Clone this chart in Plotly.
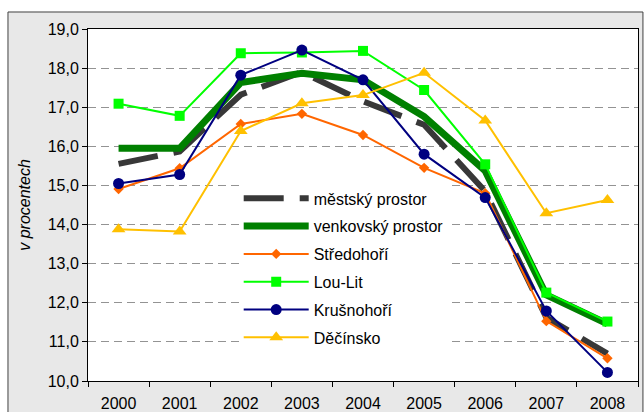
import plotly.graph_objects as go

# years on the category axis
years = ["2000", "2001", "2002", "2003", "2004", "2005", "2006", "2007", "2008"]

# shares in percent
mestsky = [15.55, 15.87, 17.32, 17.9, 17.15, 16.55, 14.85, 11.62, 10.7]
venkovsky = [15.95, 15.95, 17.63, 17.87, 17.7, 16.76, 15.37, 12.2, 11.46]
stredohori = [14.91, 15.44, 16.57, 16.83, 16.29, 15.45, 14.8, 11.53, 10.58]
lou_lit = [17.09, 16.78, 18.38, 18.4, 18.44, 17.44, 15.54, 12.26, 11.52]
krusnohori = [15.05, 15.28, 17.82, 18.46, 17.7, 15.8, 14.69, 11.79, 10.22]
decinsko = [13.88, 13.82, 16.39, 17.1, 17.31, 17.88, 16.66, 14.29, 14.63]

FONT = "Liberation Sans, Arial, sans-serif"

fig = go.Figure()

# thick lines without markers first (they sit underneath)
fig.add_trace(go.Scatter(
    x=years, y=mestsky, name="městský prostor", mode="lines",
    line=dict(color="#383838", width=6, dash="40px,16px"),
    legendgroup="a",
))
fig.add_trace(go.Scatter(
    x=years, y=venkovsky, name="venkovský prostor", mode="lines",
    line=dict(color="#008000", width=7),
    legendgroup="b",
))

# the four regions with markers
regions = [
    ("Středohoří", stredohori, "#ff6600", "diamond", 8),
    ("Lou-Lit", lou_lit, "#00ff00", "square", 10),
    ("Krušnohoří", krusnohori, "#000080", "circle", 11),
    ("Děčínsko", decinsko, "#ffc000", "triangle-up", 12),
]
for i, (name, vals, col, sym, size) in enumerate(regions):
    fig.add_trace(go.Scatter(
        x=years, y=vals, name=name, mode="lines+markers",
        line=dict(color=col, width=2),
        marker=dict(symbol=sym, size=size, color=col),
        legendgroup="c" + str(i),
    ))

# grey chart area with a dark frame, white plot area on top of it
fig.add_shape(type="rect", xref="paper", yref="paper",
              x0=-0.1455, x1=1.009, y0=-0.2, y1=1.0483,
              fillcolor="#e8e8e8", line=dict(color="#404040", width=1),
              layer="below")
fig.add_shape(type="rect", xref="paper", yref="paper",
              x0=0, x1=1, y0=0, y1=1,
              fillcolor="white", line=dict(width=0), layer="below")

fig.update_layout(
    width=644, height=412, autosize=False,
    margin=dict(l=88, r=6, t=29, b=31),
    paper_bgcolor="white", plot_bgcolor="white",
    separators=", ",
    font=dict(family=FONT, size=16, color="black"),
    showlegend=True,
    legend=dict(
        x=0.274, y=0.567, xanchor="left", yanchor="top",
        bgcolor="white", borderwidth=0,
        font=dict(family=FONT, size=16, color="black"),
        itemwidth=65, tracegroupgap=4,
    ),
)

fig.update_xaxes(
    type="category", range=[-0.5, 8.5], tickson="boundaries",
    ticks="outside", ticklen=5, tickcolor="black", automargin=False,
    showgrid=False, showline=True, linecolor="black", linewidth=1, mirror=True,
    tickfont=dict(family=FONT, size=16), ticklabelstandoff=8,
)
fig.update_yaxes(
    range=[10, 19], dtick=1, tickformat=".1f", automargin=False,
    ticks="outside", ticklen=5, tickcolor="black",
    showgrid=True, gridcolor="#939393", gridwidth=1, griddash="8px,5px",
    showline=True, linecolor="black", linewidth=1, mirror=True, zeroline=False,
    tickfont=dict(family=FONT, size=16),
    title=dict(text="<i>v procentech</i>", standoff=13,
               font=dict(family=FONT, size=16)),
)

# the page's default body margin would push the figure 8px off
fig.write_html("out.html", config={"displayModeBar": False},
               post_script="document.body.style.margin='0px';")
